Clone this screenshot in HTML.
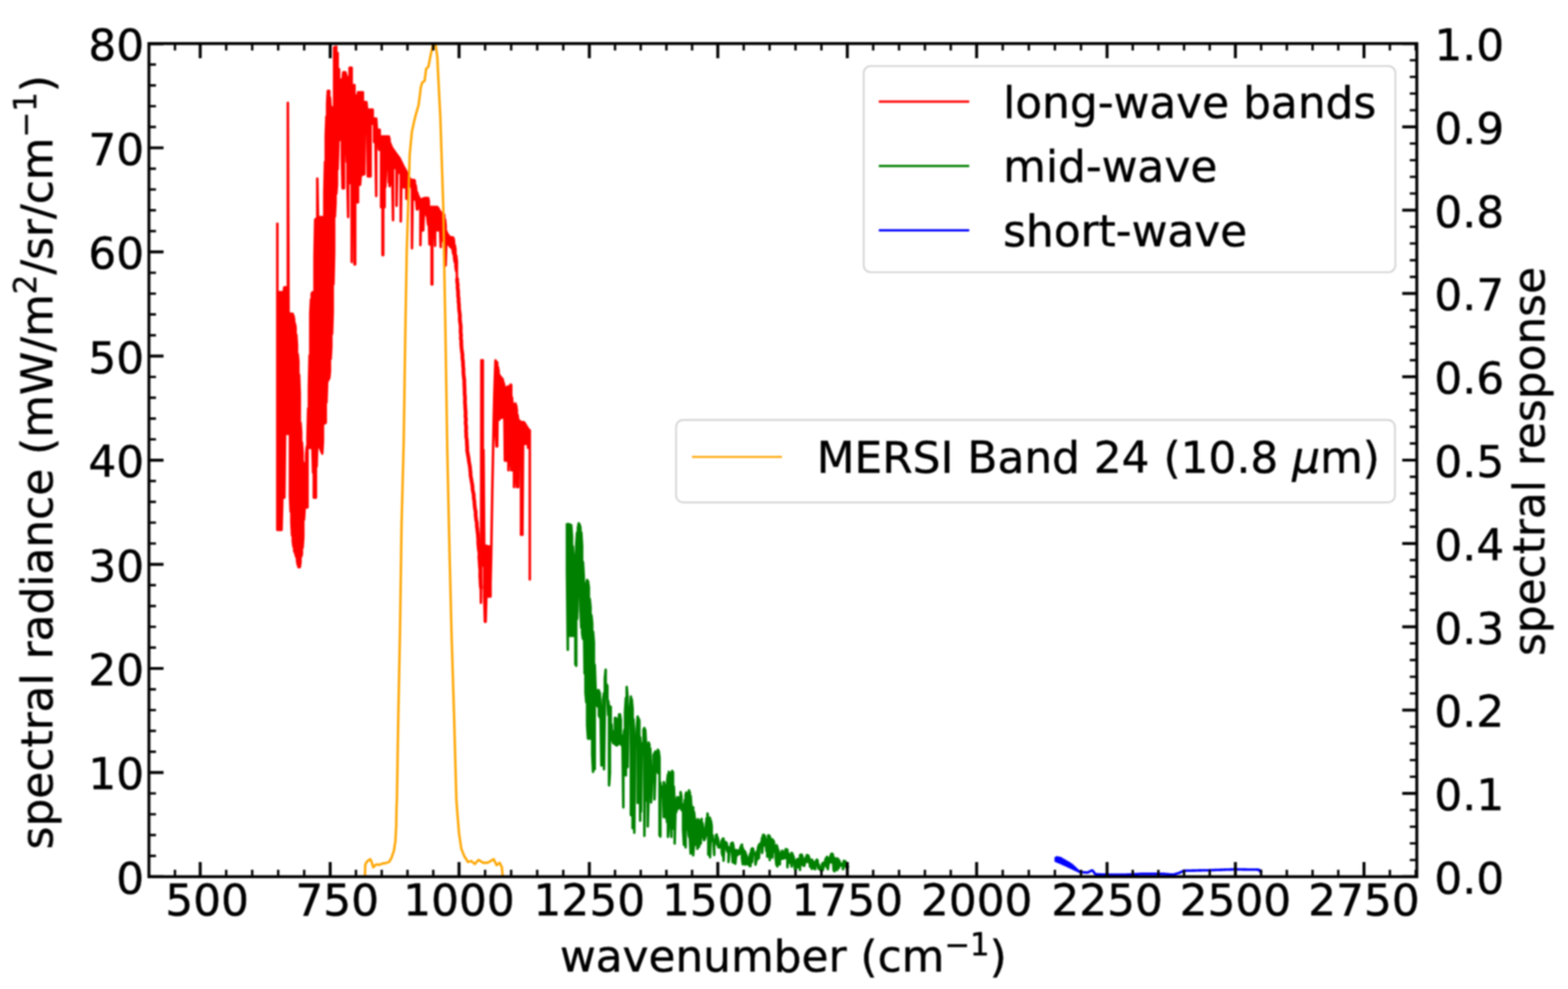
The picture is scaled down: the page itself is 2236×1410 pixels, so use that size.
<!DOCTYPE html>
<html><head><meta charset="utf-8"><title>spectral radiance</title>
<style>html,body{margin:0;padding:0;background:#fff;}body{width:2236px;height:1410px;overflow:hidden;}svg{display:block;}</style>
</head><body>
<svg width="2236" height="1410" viewBox="0 0 2236 1410">
<defs><filter id="soft" color-interpolation-filters="sRGB" filterUnits="userSpaceOnUse" x="0" y="0" width="2236" height="1410"><feGaussianBlur stdDeviation="0.8"/></filter></defs>
<rect width="2236" height="1410" fill="#fff"/>
<g filter="url(#soft)">
<g id="curves"><path d="M395.5 317.6L395.5 755.4L396.5 755.4L396.5 416.6L397.5 416.6L397.5 755.4L398.5 755.4L398.5 416.6L399.5 416.6L399.5 755.4L400.5 755.4L400.5 416.6L401.5 416.6L401.5 755.4L402.5 717.1L402.5 421.3L403.5 430.6L403.5 709.4L404.5 709.4L404.5 416.6L405.5 409.6L405.5 709.4L406.5 618.4L406.5 409.6L407.5 409.6L407.5 618.4L408.5 618.4L408.5 418.9L409.5 437.4L409.5 618.4L410.5 618.4L410.5 146.6L411.5 446.8L411.5 618.4L412.5 618.4L412.5 446.9L413.5 447L413.5 707.2L414.5 729.4L414.5 447.2L415.5 447.3L415.5 744.4L416.5 763.4L416.5 447.4L417.5 447.5L417.5 771.4L418.5 779.4L418.5 450.4L419.5 455.9L419.5 784.9L420.5 787.9L420.5 461.4L421.5 466.9L421.5 790.9L422.5 793.9L422.5 477.1L423.5 492.1L423.5 798.6L424.5 805.1L424.5 504.9L425.5 515.4L425.5 808.4L426.5 808.4L426.5 534.3L427.5 561.6L427.5 808.4L428.5 801.9L428.5 602.6L429.5 616.6L429.5 793.6L430.5 790.1L430.5 630.6L431.5 644.6L431.5 780.9L432.5 765.9L432.5 658.9L433.5 673.6L433.5 740.9L434.5 723.4L434.5 669.6L435.5 660.9L435.5 723.4L436.5 723.4L436.5 650L437.5 636.8L437.5 723.4L438.5 723.4L438.5 623.6L439.5 582.3L439.5 638.4L440.5 638.4L440.5 551.6L441.5 506.6L441.5 638.4L442.5 638.4L442.5 447.2L443.5 426.9L443.5 638.4L444.5 638.4L444.5 418.7L445.5 417L445.5 638.4L446.5 673.9L446.5 416.8L447.5 416.7L447.5 709.4L448.5 709.4L448.5 365.1L449.5 313.1L449.5 709.4L450.5 709.4L450.5 312.1L451.5 311.4L451.5 665.2L452.5 629.6L452.5 254.6L453.5 310.4L453.5 632.1L454.5 634.6L454.5 309.9L455.5 309.6L455.5 637.1L456.5 639.6L456.5 309.6L457.5 309.6L457.5 642L458.5 644.3L458.5 309.6L459.5 309.6L459.5 646.7L460.5 629.7L460.5 309.6L461.5 309.6L461.5 604.4L462.5 603.8L462.5 274.3L463.5 230.9L463.5 603.3L464.5 602.7L464.5 193.7L465.5 166L465.5 573.9L466.5 544.5L466.5 147.8L467.5 129.6L467.5 542.8L468.5 541L468.5 129.6L469.5 129.6L469.5 539.3L470.5 529.5L470.5 139L471.5 153.1L471.5 511.7L472.5 494L472.5 153.1L473.5 153.1L473.5 476.2L474.5 444.8L474.5 153.1L475.5 153.1L475.5 405.3L476.5 359.2L476.5 67.6L477.5 67.3L477.5 308.8L478.5 288.6L478.5 67L479.5 66.7L479.5 276.4L480.5 264.2L480.5 75.6L481.5 75.6L481.5 241.3L482.5 205.8L482.5 98.6L483.5 98.6L483.5 200.6L484.5 195.4L484.5 113.6L485.5 113.6L485.5 190.2L486.5 198.4L486.5 113.6L487.5 113.6L487.5 225.4L488.5 268.4L488.5 113.6L489.5 103.1L489.5 268.4L490.5 268.4L490.5 103.1L491.5 103.1L491.5 201.4L492.5 201.4L492.5 103.1L493.5 106.6L493.5 201.4L494.5 230.9L494.5 108.7L495.5 110.7L495.5 260.5L496.5 309.4L496.5 112.8L497.5 113L497.5 260.8L498.5 261L498.5 96.6L499.5 96.6L499.5 261.1L500.5 261.3L500.5 96.6L501.5 96.6L501.5 373.4L502.5 261.6L502.5 121.2L503.5 121.2L503.5 261.8L504.5 261.9L504.5 121.2L505.5 121.2L505.5 377L506.5 377L506.5 136.1L507.5 136.1L507.5 262.4L508.5 262.6L508.5 136.1L509.5 136.1L509.5 288.4L510.5 288.4L510.5 131.6L511.5 131.6L511.5 263.1L512.5 263.4L512.5 131.6L513.5 131.6L513.5 263.4L514.5 248.4L514.5 131.6L515.5 131.6L515.5 248.4L516.5 249.4L516.5 131.6L517.5 131.6L517.5 248.4L518.5 248.4L518.5 145.6L519.5 145.6L519.5 248.4L520.5 164.4L520.5 145.6L521.5 145.6L521.5 164.4L522.5 164.4L522.5 145.6L523.5 156.3L523.5 164.4L524.5 251.4L524.5 156.3L525.5 156.3L525.5 251.4L526.5 251.4L526.5 156.3L527.5 156.3L527.5 251.4L528.5 251.4L528.5 156.3L529.5 156.3L529.5 176.4L530.5 176.4L530.5 156.3L531.5 156.3L531.5 176.4L532.5 176.4L532.5 169L533.5 169L533.5 202.4L534.5 202.4L534.5 169L535.5 169L535.5 202.4L536.5 279.4L536.5 169L537.5 185L537.5 202.4L538.5 202.4L538.5 185L539.5 185L539.5 202.4L540.5 213.4L540.5 185L541.5 185L541.5 213.4L542.5 213.4L542.5 194.6L543.5 194.6L543.5 295.4L544.5 295.4L544.5 194.6L545.5 194.6L545.5 363.7L546.5 363.7L546.5 194.6L547.5 194.6L547.5 266.4L548.5 295.4L548.5 194.6L549.5 194.6L549.5 266.4L550.5 241.4L550.5 194.6L551.5 194.6L551.5 238.4L552.5 216.4L552.5 194.6L553.5 194.6L553.5 216.4L554.5 260.4L554.5 194.6L555.5 198.8L555.5 265.4L556.5 260.4L556.5 204.3L557.5 206.8L557.5 260.4L558.5 260.4L558.5 209.3L559.5 211.3L559.5 260.4L560.5 314L560.5 212.7L561.5 214.2L561.5 237.7L562.5 238.5L562.5 215.6L563.5 217L563.5 239.3L564.5 240.2L564.5 218.5L565.5 219.8L565.5 293.4L566.5 242L566.5 221.2L567.5 222.5L567.5 243.3L568.5 244.5L568.5 223.9L569.5 225.2L569.5 245.8L570.5 247.1L570.5 226.9L571.5 229L571.5 315.8L572.5 250L572.5 231L573.5 233.1L573.5 251.4L574.5 252.8L574.5 235.2L575.5 237.2L575.5 267.1L576.5 267.1L576.5 239L577.5 240.9L577.5 256.7L578.5 257.3L578.5 242.7L579.5 244.6L579.5 283.4L580.5 283.4L580.5 246.4L581.5 248.4L581.5 259L582.5 259.5L582.5 250.4L583.5 252.4L583.5 260.1L584.5 261.7L584.5 254.4L585.5 256.4L585.5 264.3L586.5 266.8L586.5 256.6L587.5 256.6L587.5 353.9L588.5 272L588.5 256.6L589.5 256.6L589.5 274.5L590.5 277.1L590.5 256.6L591.5 257.8L591.5 284.4L592.5 283.2L592.5 263.6L593.5 269.5L593.5 286.4L594.5 298.4L594.5 273.7L595.5 276.2L595.5 298.4L596.5 294.7L596.5 278.8L597.5 281.3L597.5 295.4L598.5 296.1L598.5 283.7L599.5 284.2L599.5 349.4L600.5 297.4L600.5 284.2L601.5 283.8L601.5 298.1L602.5 328.4L602.5 283.4L603.5 283.1L603.5 328.4L604.5 300.4L604.5 282.7L605.5 282.3L605.5 302.4L606.5 302L606.5 282.3L607.5 282.3L607.5 304.3L608.5 308.1L608.5 282.3L609.5 282.3L609.5 311.9L610.5 320.4L610.5 282.3L611.5 286.6L611.5 316.4L612.5 348.4L612.5 295.1L613.5 295.1L613.5 348.4L614.5 316.4L614.5 295.1L615.5 295.1L615.5 405.4L616.5 405.4L616.5 295.1L617.5 295.1L617.5 316.4L618.5 316.4L618.5 295.1L619.5 295.1L619.5 316.4L620.5 350.4L620.5 295.1L621.5 295.1L621.5 317.9L622.5 318.9L622.5 295.1L623.5 295.1L623.5 328.4L624.5 328.4L624.5 296L625.5 297.8L625.5 321.8L626.5 322.7L626.5 299.5L627.5 301.3L627.5 323.6L628.5 352.2L628.5 302.6L629.5 303.3L629.5 326.5L630.5 343.4L630.5 304L631.5 304.7L631.5 343.4L632.5 332.9L632.5 305.5L633.5 306.2L633.5 335.9L634.5 338.9L634.5 312.5L635.5 321.2L635.5 378.4L636.5 344.1L636.5 329.9L637.5 332.7L637.5 345.5L638.5 346.9L638.5 334.1L639.5 335.5L639.5 348.3L640.5 349.7L640.5 336.9L641.5 337.7L641.5 350.9L642.5 351.9L642.5 338L643.5 338.2L643.5 352.9L644.5 353.9L644.5 338.5L645.5 338.7L645.5 357.1L646.5 362.4L646.5 339L647.5 344L647.5 367.7L648.5 373.6L648.5 349.6L649.5 355.4L649.5 380.1L650.5 386.6L650.5 363.9L651.5 372.4L651.5 393.1L651.9 398L652 402L652.7 406L652.5 410L653.1 414L653.3 418L653.3 422L654 426L653.9 430L654.5 434L654.5 438L654.8 442L655.4 446L655.9 450L655.7 454L656 458L656.6 462L657 466L656.9 470L656.9 474L657.5 478L657.1 482L657.8 486L657.8 490L658 494L658.4 498L658.9 502L659.5 506L659.4 510L660 514L660.3 518L660.4 522L660.9 526L660.8 530L661.1 534L661.5 538L662.1 542L662.1 546L662.2 550L662.5 554L662.5 558L662.6 562L663.1 566L663.1 570L663 574L663.4 578L663.5 582L663.9 586L664 590L663.8 594L664.5 598L664 602L664.4 606L664.8 610L664.5 614L664.9 618L664.8 622L665.5 626L665.8 630L665.9 634L666.3 638L666.2 642L666.9 646L667.6 650L668.3 654L668.7 658L669.5 662L670.2 666L670.5 670L671 674L671 678L671.9 682L672.5 686L673.3 690L673.8 694L674 698L674.8 702L675.6 706L675.6 710L676.4 714L676.6 718L677 722L677.5 726L678.4 730L678.2 734L678.7 738L679.2 742L680 746L680 750L680.6 754L681 758L681.5 762L681.8 766L682.1 770L682 774L682.4 778L682.7 782L683.4 786L683.8 790L683.5 794L683.8 798L684.1 802L684.3 806L684.7 810L685 814L684.9 818L684.8 822L685.2 826L685.3 830L685.5 834L685.9 838L685.6 840L685.8 859.5L686 840L686.5 513.6L686.5 806.4L687.5 806.4L687.5 601.6L688.5 513.6L688.5 806.4L689.5 806.4L689.5 641.6L690.5 777.6L690.5 850.4L691.5 886.4L691.5 777.8L692.5 778L692.5 886.4L693.5 850.4L693.5 778.3L694.5 778.5L694.5 850.4L695.5 850.4L695.5 778.7L696.5 778.9L696.5 850.4L697.5 850.4L697.5 779.2L698.5 779.4L698.5 850.4L699.5 850.4L699.5 779.6L699.6 828L700.5 790L701 760L702 700L703 651L704 600L705 560L706 530L706.6 513.7L707 515.5L707 618.4L708 636.4L708 516.1L709 516.6L709 636.4L710 549L710 523L711 529.5L711 554.5L712 598.4L712 534.5L713 536L713 596.4L714 560.6L714 537.6L715 538.6L715 595.4L716 595.4L716 539.7L717 541L717 563.7L718 595.4L718 545.1L719 549.1L719 569.6L720 656.8L720 553.2L721 553.7L721 656.8L722 656.8L722 552.7L723 551.7L723 656.8L724 573.4L724 551L725 551L725 670.4L726 573.4L726 551L727 551L727 663.4L728 580.5L728 548.2L729 549L729 670.4L730 594.8L730 566.4L731 578L731 670.4L732 598.4L732 577.3L733 576.6L733 694.4L734 598.4L734 576L735 575.3L735 688.4L736 601L736 577.7L737 584.7L737 694.4L738 613.9L738 591.6L739 598.6L739 694.4L740 620.8L740 599.4L741 600.1L741 658.4L742 621.5L742 600.9L743 601.6L743 762.4L744 622.2L744 601.7L745 601.8L745 762.4L746 622.9L746 601.9L747 602L747 633L748 624.3L748 602.9L749 604.6L749 633L750 627.8L750 606.3L751 607.9L751 633L752 631.3L752 609.6L753 611.1L753 638.4L754 635.9L754 612.4L755 613.6L755 638.4L755.5 613.6L755.5 827.4" fill="none" stroke="#ff0000" stroke-width="3.6" stroke-linejoin="round"/>
<path d="M651.9 398L652 402L652.7 406L652.5 410L653.1 414L653.3 418L653.3 422L654 426L653.9 430L654.5 434L654.5 438L654.8 442L655.4 446L655.9 450L655.7 454L656 458L656.6 462L657 466L656.9 470L656.9 474L657.5 478L657.1 482L657.8 486L657.8 490L658 494L658.4 498L658.9 502L659.5 506L659.4 510L660 514L660.3 518L660.4 522L660.9 526L660.8 530L661.1 534L661.5 538L662.1 542L662.1 546L662.2 550L662.5 554L662.5 558L662.6 562L663.1 566L663.1 570L663 574L663.4 578L663.5 582L663.9 586L664 590L663.8 594L664.5 598L664 602L664.4 606L664.8 610L664.5 614L664.9 618L664.8 622L665.5 626L665.8 630L665.9 634L666.3 638L666.2 642L666.9 646L667.6 650L668.3 654L668.7 658L669.5 662L670.2 666L670.5 670L671 674L671 678L671.9 682L672.5 686L673.3 690L673.8 694L674 698L674.8 702L675.6 706L675.6 710L676.4 714L676.6 718L677 722L677.5 726L678.4 730L678.2 734L678.7 738L679.2 742L680 746L680 750L680.6 754L681 758L681.5 762L681.8 766L682.1 770L682 774L682.4 778L682.7 782L683.4 786L683.8 790L683.5 794L683.8 798L684.1 802L684.3 806L684.7 810L685 814L684.9 818L684.8 822L685.2 826L685.3 830L685.5 834L685.9 838" fill="none" stroke="#ff0000" stroke-width="5.4" stroke-linejoin="round" stroke-linecap="round"/>
<path d="M808.5 746.1L808.5 815.3L809.7 926.4L809.7 747.1L810.9 747.2L810.9 820.9L812.1 906.4L812.1 747.7L813.3 748.2L813.3 906.4L814.5 906.4L814.5 748.6L815.7 764.9L815.7 906.4L816.9 906.4L816.9 778.8L818.1 791.3L818.1 906.4L819.3 880.5L819.3 794.4L820.5 794.5L820.5 946.9L821.7 949.1L821.7 776.1L822.9 759.3L822.9 882.5L824.1 850.1L824.1 752.7L825.3 746.1L825.3 850.1L826.5 850.1L826.5 747.8L827.7 752.4L827.7 869.6L828.9 895L828.9 759L830.1 778.6L830.1 902.9L831.3 910.8L831.3 801L832.5 822.4L832.5 875.5L833.7 960.1L833.7 842.5L834.9 835.5L834.9 987.3L836.1 1001.1L836.1 831.6L837.3 826.9L837.3 1033.8L838.5 1052.9L838.5 828.6L839.7 837.6L839.7 1052.9L840.9 1052.9L840.9 853.7L842.1 865.5L842.1 1052.9L843.3 1008.3L843.3 877L844.5 888.8L844.5 1075.2L845.7 1100.4L845.7 900.6L846.9 915.6L846.9 1053.3L848.1 1096.6L848.1 947.8L849.3 981.2L849.3 983.1L850.5 994.8L850.5 994.1L851.7 995.9L851.7 1006.5L852.9 1007.6L852.9 983.8L854.1 984.3L854.1 1019.7L855.3 1022.6L855.3 987.6L856.5 1006.4L856.5 1023.4L857.7 1091.4L857.7 1023.2L858.9 1018.4L858.9 1061.9L860.1 1024.4L860.1 997.4L861.3 988.2L861.3 1096.7L862.5 1009.2L862.5 967.1L863.7 954.7L863.7 991.5L864.9 985L864.9 975.7L866.1 977.9L866.1 993.2L867.3 1019.3L867.3 999.3L868.5 1008L868.5 1119.8L869.7 1102.3L869.7 1007L870.9 1007.6L870.9 1045.1L872.1 1050.3L872.1 1032.7L873.3 1054.6L873.3 1055.8L874.5 1059.4L874.5 1058.3L875.7 1042.6L875.7 1060.3L876.9 1046.4L876.9 1023.5L878.1 1023.5L878.1 1062.1L879.3 1062.7L879.3 1025L880.5 1044.4L880.5 1062.3L881.7 1049.6L881.7 1034.3L882.9 1018.5L882.9 1060.2L884.1 1060L884.1 1018.2L885.3 1026.3L885.3 1061.2L886.5 1062.3L886.5 1048.6L887.7 1057.3L887.7 1063.4L888.9 1151.1L888.9 1054.1L890.1 1040.9L890.1 1057.7L891.3 1054.3L891.3 1015.2L892.5 995L892.5 1105.6L893.7 997L893.7 979.4L894.9 993.6L894.9 1093.8L896.1 1031L896.1 1013.1L897.3 1013.1L897.3 1031.1L898.5 1031.2L898.5 1008.4L899.7 993L899.7 1162.1L900.9 1045.4L900.9 996.9L902.1 1010.2L902.1 1180.8L903.3 1058.1L903.3 1025.3L904.5 1047.8L904.5 1187.3L905.7 1056.4L905.7 1051.6L906.9 1053.1L906.9 1061.5L908.1 1062.6L908.1 1039.4L909.3 1021.6L909.3 1144.7L910.5 1066L910.5 1024L911.7 1027.6L911.7 1043.6L912.9 1170.1L912.9 1051L914.1 1066.2L914.1 1157.3L915.3 1069.7L915.3 1068.2L916.5 1059.7L916.5 1068.6L917.7 1075.4L917.7 1040.2L918.9 1037.8L918.9 1191.7L920.1 1078.7L920.1 1040.6L921.3 1061.8L921.3 1081.8L922.5 1141.5L922.5 1083.8L923.7 1075.4L923.7 1178.3L924.9 1135.6L924.9 1058.5L926.1 1061.6L926.1 1086.5L927.3 1099L927.3 1067.4L928.5 1092.7L928.5 1144L929.7 1113.7L929.7 1113.7L930.9 1101L930.9 1109.2L932.1 1106L932.1 1076.4L933.3 1073.7L933.3 1139.6L934.5 1102.3L934.5 1071.3L935.7 1089.6L935.7 1093.2L936.9 1099.7L936.9 1086.5L938.1 1068.9L938.1 1101.1L939.3 1102.6L939.3 1070.6L940.5 1080.3L940.5 1190.5L941.7 1192.6L941.7 1115.7L942.9 1131.9L942.9 1131.9L944.1 1134.1L944.1 1134.1L945.3 1121L945.3 1133.5L946.5 1165L946.5 1115.1L947.7 1119.3L947.7 1140L948.9 1165.2L948.9 1122L950.1 1134.9L950.1 1161.2L951.3 1172L951.3 1115.2L952.5 1104.3L952.5 1193.1L953.7 1179.9L953.7 1100.4L954.9 1108.2L954.9 1171.2L956.1 1165.9L956.1 1119.5L957.3 1101.3L957.3 1193.1L958.5 1126.3L958.5 1099.1L959.7 1101.1L959.7 1181.1L960.9 1132.5L960.9 1121.4L962.1 1147.1L962.1 1202.6L963.3 1153.5L963.3 1147.3L964.5 1139.7L964.5 1157.6L965.7 1146.9L965.7 1136.5L966.9 1140.5L966.9 1153L968.1 1152.4L968.1 1152.4L969.3 1136.4L969.3 1144.9L970.5 1150.1L970.5 1129.2L971.7 1135.4L971.7 1154.8L972.9 1152.6L972.9 1146.5L974.1 1159.5L974.1 1183.1L975.3 1204.4L975.3 1156.7L976.5 1140.4L976.5 1182.1L977.7 1208.1L977.7 1132.7L978.9 1129.8L978.9 1151.1L980.1 1149.1L980.1 1137.5L981.3 1142.1L981.3 1182.3L982.5 1193L982.5 1126.9L983.7 1130.2L983.7 1194.2L984.9 1217L984.9 1134.9L986.1 1152.7L986.1 1159.6L987.3 1163.4L987.3 1153.7L988.5 1150.9L988.5 1219.5L989.7 1201.3L989.7 1157.6L990.9 1167.7L990.9 1204.6L992.1 1182.6L992.1 1182L993.3 1176.4L993.3 1182.4L994.5 1210.1L994.5 1168.5L995.7 1168.1L995.7 1203.6L996.9 1207.3L996.9 1170.1L998.1 1179.9L998.1 1197L999.3 1202.8L999.3 1174L1000.5 1167.5L1000.5 1186.3L1001.7 1190.2L1001.7 1173.2L1002.9 1181.5L1002.9 1194L1004.1 1197.9L1004.1 1194.1L1005.3 1193.1L1005.3 1195.9L1006.5 1191L1006.5 1178.4L1007.7 1166.5L1007.7 1175.5L1008.9 1181.6L1008.9 1159.7L1010.1 1167.4L1010.1 1218.4L1011.3 1183.9L1011.3 1176L1012.5 1166.1L1012.5 1222.2L1013.7 1188.5L1013.7 1169.7L1014.9 1177.5L1014.9 1193.8L1016.1 1198.7L1016.1 1191.1L1017.3 1197.6L1017.3 1198.9L1018.5 1218.9L1018.5 1197.8L1019.7 1197.7L1019.7 1199.1L1020.9 1199.8L1020.9 1190.7L1022.1 1189.8L1022.1 1202.6L1023.3 1205.3L1023.3 1193.9L1024.5 1199.6L1024.5 1207.9L1025.7 1208.2L1025.7 1205.5L1026.9 1207L1026.9 1207.9L1028.1 1207.6L1028.1 1204.4L1029.3 1198.2L1029.3 1215.5L1030.5 1220.1L1030.5 1196L1031.7 1195.5L1031.7 1227.1L1032.9 1206.5L1032.9 1199.5L1034.1 1203.4L1034.1 1206.4L1035.3 1209.1L1035.3 1200.8L1036.5 1202.7L1036.5 1211.8L1037.7 1214.6L1037.7 1206.6L1038.9 1209.5L1038.9 1228.9L1040.1 1214L1040.1 1213.1L1041.3 1208L1041.3 1213.3L1042.5 1212.6L1042.5 1202.9L1043.7 1201.6L1043.7 1211.9L1044.9 1229.3L1044.9 1201.6L1046.1 1207L1046.1 1219.8L1047.3 1230.4L1047.3 1212.6L1048.5 1211.8L1048.5 1231.4L1049.7 1220.4L1049.7 1213.4L1050.9 1212.1L1050.9 1219.6L1052.1 1216.1L1052.1 1212.9L1053.3 1216.4L1053.3 1218.1L1054.5 1217.2L1054.5 1214.7L1055.7 1208.5L1055.7 1216.3L1056.9 1215.4L1056.9 1205.5L1058.1 1204.1L1058.1 1224L1059.3 1232.3L1059.3 1209.2L1060.5 1215L1060.5 1230.6L1061.7 1225.9L1061.7 1213.2L1062.9 1215L1062.9 1232.7L1064.1 1223.9L1064.1 1218.2L1065.3 1223.4L1065.3 1226.1L1066.5 1232.3L1066.5 1224.7L1067.7 1223.1L1067.7 1223.3L1068.9 1234.5L1068.9 1221.6L1070.1 1216.5L1070.1 1235L1071.3 1219.3L1071.3 1211.6L1072.5 1209.6L1072.5 1229L1073.7 1217.1L1073.7 1209.7L1074.9 1214.9L1074.9 1217.5L1076.1 1217.4L1076.1 1217.1L1077.3 1217.2L1077.3 1232.8L1078.5 1227.6L1078.5 1216.8L1079.7 1213.4L1079.7 1225.6L1080.9 1214.9L1080.9 1208.8L1082.1 1205.1L1082.1 1223.7L1083.3 1208.7L1083.3 1203L1084.5 1203.6L1084.5 1205.5L1085.7 1202.4L1085.7 1201.6L1086.9 1194L1086.9 1216L1088.1 1198.5L1088.1 1190.2L1089.3 1190.4L1089.3 1205.5L1090.5 1199.8L1090.5 1191.7L1091.7 1197.3L1091.7 1198.7L1092.9 1213.1L1092.9 1200.2L1094.1 1196.5L1094.1 1221.3L1095.3 1221.1L1095.3 1191L1096.5 1191.1L1096.5 1202.6L1097.7 1226.1L1097.7 1192.4L1098.9 1200.1L1098.9 1205.1L1100.1 1210.5L1100.1 1200.1L1101.3 1196.5L1101.3 1222.8L1102.5 1210L1102.5 1198L1103.7 1200.6L1103.7 1214.2L1104.9 1211.7L1104.9 1207.8L1106.1 1206.7L1106.1 1223.3L1107.3 1233.2L1107.3 1205L1108.5 1207.6L1108.5 1235.3L1109.7 1229.8L1109.7 1211.4L1110.9 1218.2L1110.9 1223.7L1112.1 1232.3L1112.1 1220.9L1113.3 1216.3L1113.3 1224.7L1114.5 1224.5L1114.5 1213.7L1115.7 1213L1115.7 1224.2L1116.9 1223.9L1116.9 1214.8L1118.1 1219L1118.1 1223.6L1119.3 1223.3L1119.3 1215.6L1120.5 1210.7L1120.5 1223.3L1121.7 1223.4L1121.7 1210.8L1122.9 1211.3L1122.9 1236.4L1124.1 1221.4L1124.1 1216.5L1125.3 1219.7L1125.3 1224L1126.5 1230.1L1126.5 1219.9L1127.7 1218.1L1127.7 1224.3L1128.9 1235.3L1128.9 1215.7L1130.1 1217.4L1130.1 1222L1131.3 1229.5L1131.3 1220.4L1132.5 1225.6L1132.5 1231.2L1133.7 1239.2L1133.7 1230.6L1134.9 1229.4L1134.9 1239.2L1136.1 1229L1136.1 1226.4L1137.3 1224.6L1137.3 1236.5L1138.5 1231.1L1138.5 1224.8L1139.7 1224.9L1139.7 1230L1140.9 1240.2L1140.9 1219.5L1142.1 1218.5L1142.1 1228.5L1143.3 1222.2L1143.3 1218.5L1144.5 1222.3L1144.5 1233.4L1145.7 1226.3L1145.7 1225.1L1146.9 1225.2L1146.9 1234.6L1148.1 1228.4L1148.1 1225.2L1149.3 1222.1L1149.3 1228.6L1150.5 1228.7L1150.5 1219.1L1151.7 1219.2L1151.7 1224.1L1152.9 1229L1152.9 1220L1154.1 1224.1L1154.1 1226.5L1155.3 1235.7L1155.3 1226.1L1156.5 1226L1156.5 1230.7L1157.7 1238.7L1157.7 1225.5L1158.9 1228.1L1158.9 1234.2L1160.1 1234.9L1160.1 1229.1L1161.3 1230.8L1161.3 1238.5L1162.5 1239.1L1162.5 1231L1163.7 1227.1L1163.7 1232.2L1164.9 1233.3L1164.9 1225.5L1166.1 1227.3L1166.1 1234.3L1167.3 1238.5L1167.3 1232.3L1168.5 1237.7L1168.5 1237.7L1169.7 1240.3L1169.7 1240.3L1170.9 1235.9L1170.9 1238.3L1172.1 1237.3L1172.1 1232.2L1173.3 1230.5L1173.3 1240.7L1174.5 1235.3L1174.5 1229.8L1175.7 1230.8L1175.7 1234.3L1176.9 1233.4L1176.9 1226.1L1178.1 1223.4L1178.1 1232.4L1179.3 1236.4L1179.3 1221.6L1180.5 1223.2L1180.5 1239.3L1181.7 1230.3L1181.7 1226.7L1182.9 1226.2L1182.9 1229.9L1184.1 1229.5L1184.1 1221.3L1185.3 1217.7L1185.3 1229.2L1186.5 1228.8L1186.5 1217.1L1187.7 1218.1L1187.7 1224.1L1188.9 1241L1188.9 1222.5L1190.1 1223.5L1190.1 1242.3L1191.3 1228.9L1191.3 1225L1192.5 1225.9L1192.5 1235.8L1193.7 1240.4L1193.7 1223.9L1194.9 1224.4L1194.9 1232.8L1196.1 1237.6L1196.1 1226.4L1197.3 1228.1L1197.3 1234L1198.5 1234.1L1198.5 1231.3L1199.7 1231.9L1199.7 1232.9L1200.9 1234.4L1200.9 1232.1L1202.1 1230.1L1202.1 1239.3L1203.3 1233L1203.3 1227.4L1204.5 1227.5L1204.5 1234.7L1205.7 1235L1205.7 1228.3L1206.9 1232.1L1206.9 1235.5L1208.1 1239.9L1208.1 1234.9L1209.3 1235.8L1209.3 1236.8" fill="none" stroke="#008000" stroke-width="3.6" stroke-linejoin="round"/>
<path d="M1505.5 1222.1L1505.5 1227.4L1506.7 1227.9L1506.7 1222.3L1507.9 1222.6L1507.9 1228.4L1509.1 1228.9L1509.1 1222.8L1510.3 1223.1L1510.3 1229.4L1511.5 1229.9L1511.5 1223.3L1512.7 1223.6L1512.7 1230.4L1513.9 1230.9L1513.9 1224.3L1515.1 1225L1515.1 1231.5L1516.3 1232L1516.3 1225.7L1517.5 1226.4L1517.5 1232.6L1518.7 1233.1L1518.7 1227.1L1519.9 1227.8L1519.9 1233.7L1521.1 1234.2L1521.1 1228.5L1522.3 1229.2L1522.3 1234.8L1523.5 1235.3L1523.5 1229.9L1524.7 1230.6L1524.7 1235.9L1525.9 1236.4L1525.9 1231.4L1527.1 1232.1L1527.1 1237L1528.3 1237.5L1528.3 1232.9L1529.5 1234L1529.5 1238.1L1530.7 1238.7L1530.7 1235.1L1531.9 1236.2L1531.9 1239.3L1533.1 1239.9L1533.1 1237.3L1534.3 1238.4L1534.3 1240.4L1535.5 1241L1535.5 1239.5L1536.7 1240.6L1536.7 1241.6L1537.9 1242.2L1537.9 1241.7L1539.1 1242.8L1539.1 1242.8L1540.3 1243.2L1540.3 1243.2L1541.5 1243.3L1541.5 1243.3L1542.7 1243.4L1542.7 1243.4L1543.9 1243.5L1543.9 1243.5L1545.1 1243.6L1545.1 1243.6L1546.3 1243.7L1546.3 1243.7L1547.5 1243.8L1547.5 1243.8L1548.7 1243.9L1548.7 1243.9L1549.9 1244L1549.9 1244L1551.1 1243.9L1551.1 1243.9L1552.3 1243.3L1552.3 1243.3L1553.5 1242.7L1553.5 1242.7L1554.7 1242.1L1554.7 1242.1L1555.9 1241.5L1555.9 1241.5L1557.1 1240.9L1557.1 1240.9L1558.3 1241.4L1558.3 1241.4L1559.5 1243L1559.5 1243L1560.7 1244.6L1560.7 1244.6L1561.9 1246.3L1561.9 1246.3L1563.1 1246.4L1563.1 1246.4L1564.3 1246.5L1564.3 1246.5L1565.5 1246.5L1565.5 1246.5L1566.7 1246.6L1566.7 1246.6L1567.9 1246.6L1567.9 1246.6L1569.1 1246.7L1569.1 1246.7L1570.3 1246.7L1570.3 1246.7L1571.5 1246.8L1571.5 1246.8L1572.7 1246.8L1572.7 1246.8L1573.9 1246.9L1573.9 1246.9L1575.1 1246.9L1575.1 1246.9L1576.3 1247L1576.3 1247L1577.5 1247L1577.5 1247L1578.7 1247L1578.7 1247L1579.9 1247.1L1579.9 1247.1L1581.1 1247.1L1581.1 1247.1L1582.3 1247.1L1582.3 1247.1L1583.5 1247.1L1583.5 1247.1L1584.7 1247.1L1584.7 1247.1L1585.9 1247.1L1585.9 1247.1L1587.1 1247.1L1587.1 1247.1L1588.3 1247.1L1588.3 1247.1L1589.5 1247.1L1589.5 1247.1L1590.7 1247.1L1590.7 1247.1L1591.9 1247.1L1591.9 1247.1L1593.1 1247.1L1593.1 1247.1L1594.3 1247.1L1594.3 1247.1L1595.5 1247.1L1595.5 1247.1L1596.7 1247.1L1596.7 1247.1L1597.9 1247.1L1597.9 1247.1L1599.1 1247.1L1599.1 1247.1L1600.3 1247.1L1600.3 1247.1L1601.5 1247.1L1601.5 1247.1L1602.7 1247.1L1602.7 1247.1L1603.9 1247.1L1603.9 1247.1L1605.1 1247L1605.1 1247L1606.3 1247L1606.3 1247L1607.5 1246.9L1607.5 1246.9L1608.7 1246.9L1608.7 1246.9L1609.9 1246.8L1609.9 1246.8L1611.1 1246.7L1611.1 1246.7L1612.3 1246.7L1612.3 1246.7L1613.5 1246.6L1613.5 1246.6L1614.7 1246.5L1614.7 1246.5L1615.9 1246.5L1615.9 1246.5L1617.1 1246.4L1617.1 1246.4L1618.3 1246.4L1618.3 1246.4L1619.5 1246.3L1619.5 1246.3L1620.7 1246.2L1620.7 1246.2L1621.9 1246.2L1621.9 1246.2L1623.1 1246.1L1623.1 1246.1L1624.3 1246L1624.3 1246L1625.5 1246L1625.5 1246L1626.7 1245.9L1626.7 1245.9L1627.9 1245.9L1627.9 1245.9L1629.1 1245.9L1629.1 1245.9L1630.3 1245.9L1630.3 1245.9L1631.5 1245.9L1631.5 1245.9L1632.7 1245.9L1632.7 1245.9L1633.9 1245.9L1633.9 1245.9L1635.1 1245.9L1635.1 1245.9L1636.3 1245.9L1636.3 1245.9L1637.5 1245.9L1637.5 1245.9L1638.7 1245.9L1638.7 1245.9L1639.9 1245.9L1639.9 1245.9L1641.1 1245.9L1641.1 1245.9L1642.3 1245.9L1642.3 1245.9L1643.5 1245.9L1643.5 1245.9L1644.7 1245.9L1644.7 1245.9L1645.9 1245.9L1645.9 1245.9L1647.1 1245.9L1647.1 1245.9L1648.3 1245.9L1648.3 1245.9L1649.5 1245.9L1649.5 1245.9L1650.7 1245.9L1650.7 1245.9L1651.9 1245.9L1651.9 1245.9L1653.1 1245.9L1653.1 1245.9L1654.3 1245.9L1654.3 1245.9L1655.5 1245.9L1655.5 1245.9L1656.7 1245.9L1656.7 1245.9L1657.9 1245.9L1657.9 1245.9L1659.1 1245.9L1659.1 1245.9L1660.3 1245.9L1660.3 1245.9L1661.5 1246L1661.5 1246L1662.7 1246.2L1662.7 1246.2L1663.9 1246.3L1663.9 1246.3L1665.1 1246.4L1665.1 1246.4L1666.3 1246.5L1666.3 1246.5L1667.5 1246.6L1667.5 1246.6L1668.7 1246.7L1668.7 1246.7L1669.9 1246.8L1669.9 1246.8L1671.1 1246.9L1671.1 1246.9L1672.3 1247.1L1672.3 1247.1L1673.5 1246.9L1673.5 1246.9L1674.7 1246.5L1674.7 1246.5L1675.9 1246.2L1675.9 1246.2L1677.1 1245.8L1677.1 1245.8L1678.3 1245.5L1678.3 1245.5L1679.5 1245.1L1679.5 1245.1L1680.7 1244.8L1680.7 1244.8L1681.9 1244.4L1681.9 1244.4L1683.1 1243.8L1683.1 1243.8L1684.3 1243.2L1684.3 1243.2L1685.5 1242.6L1685.5 1242.6L1686.7 1242L1686.7 1242L1687.9 1241.4L1687.9 1241.4L1689.1 1241.4L1689.1 1241.4L1690.3 1241.4L1690.3 1241.4L1691.5 1241.3L1691.5 1241.3L1692.7 1241.3L1692.7 1241.3L1693.9 1241.3L1693.9 1241.3L1695.1 1241.3L1695.1 1241.3L1696.3 1241.2L1696.3 1241.2L1697.5 1241.2L1697.5 1241.2L1698.7 1241.2L1698.7 1241.2L1699.9 1241.1L1699.9 1241.1L1701.1 1241.1L1701.1 1241.1L1702.3 1241.1L1702.3 1241.1L1703.5 1241.1L1703.5 1241.1L1704.7 1241L1704.7 1241L1705.9 1241L1705.9 1241L1707.1 1241L1707.1 1241L1708.3 1241L1708.3 1241L1709.5 1240.9L1709.5 1240.9L1710.7 1240.9L1710.7 1240.9L1711.9 1240.9L1711.9 1240.9L1713.1 1240.9L1713.1 1240.9L1714.3 1240.8L1714.3 1240.8L1715.5 1240.8L1715.5 1240.8L1716.7 1240.8L1716.7 1240.8L1717.9 1240.8L1717.9 1240.8L1719.1 1240.7L1719.1 1240.7L1720.3 1240.7L1720.3 1240.7L1721.5 1240.7L1721.5 1240.7L1722.7 1240.7L1722.7 1240.7L1723.9 1240.6L1723.9 1240.6L1725.1 1240.6L1725.1 1240.6L1726.3 1240.6L1726.3 1240.6L1727.5 1240.5L1727.5 1240.5L1728.7 1240.5L1728.7 1240.5L1729.9 1240.5L1729.9 1240.5L1731.1 1240.4L1731.1 1240.4L1732.3 1240.4L1732.3 1240.4L1733.5 1240.3L1733.5 1240.3L1734.7 1240.3L1734.7 1240.3L1735.9 1240.3L1735.9 1240.3L1737.1 1240.2L1737.1 1240.2L1738.3 1240.2L1738.3 1240.2L1739.5 1240.1L1739.5 1240.1L1740.7 1240.1L1740.7 1240.1L1741.9 1240.1L1741.9 1240.1L1743.1 1240L1743.1 1240L1744.3 1240L1744.3 1240L1745.5 1239.9L1745.5 1239.9L1746.7 1239.9L1746.7 1239.9L1747.9 1239.8L1747.9 1239.8L1749.1 1239.8L1749.1 1239.8L1750.3 1239.8L1750.3 1239.8L1751.5 1239.7L1751.5 1239.7L1752.7 1239.7L1752.7 1239.7L1753.9 1239.6L1753.9 1239.6L1755.1 1239.6L1755.1 1239.6L1756.3 1239.6L1756.3 1239.6L1757.5 1239.5L1757.5 1239.5L1758.7 1239.5L1758.7 1239.5L1759.9 1239.4L1759.9 1239.4L1761.1 1239.4L1761.1 1239.4L1762.3 1239.4L1762.3 1239.4L1763.5 1239.4L1763.5 1239.4L1764.7 1239.5L1764.7 1239.5L1765.9 1239.5L1765.9 1239.5L1767.1 1239.5L1767.1 1239.5L1768.3 1239.5L1768.3 1239.5L1769.5 1239.5L1769.5 1239.5L1770.7 1239.5L1770.7 1239.5L1771.9 1239.6L1771.9 1239.6L1773.1 1239.6L1773.1 1239.6L1774.3 1239.6L1774.3 1239.6L1775.5 1239.6L1775.5 1239.6L1776.7 1239.6L1776.7 1239.6L1777.9 1239.7L1777.9 1239.7L1779.1 1239.7L1779.1 1239.7L1780.3 1239.7L1780.3 1239.7L1781.5 1239.7L1781.5 1239.7L1782.7 1239.7L1782.7 1239.7L1783.9 1239.7L1783.9 1239.7L1785.1 1239.8L1785.1 1239.8L1786.3 1239.8L1786.3 1239.8L1787.5 1239.8L1787.5 1239.8L1788.7 1239.8L1788.7 1239.8L1789.9 1239.8L1789.9 1239.8L1791.1 1239.8L1791.1 1239.8L1792.3 1239.9L1792.3 1239.9L1793.5 1239.9L1793.5 1239.9L1794.7 1240L1794.7 1240L1795.9 1240.5L1795.9 1240.9L1797.1 1242.7L1797.1 1241L1798.3 1241.5L1798.3 1244.6" fill="none" stroke="#0000ff" stroke-width="3.6" stroke-linejoin="round"/>
<path d="M520.4 1249L520.9 1232.3L523.6 1228L527.9 1224.8L530 1229L532.2 1236.6L535 1233.5L537.6 1232.3L541 1233L545 1231.2L550 1230.5L554.7 1229L558 1223.7L561.7 1213L563.9 1199L565 1177.6L565.5 1150.7L566 1140L568 1020L570.4 900L572.6 749L575.7 630L577.9 479L580 360L582 294L584.3 219.6L587.4 187.7L590.6 172.8L592.8 164L597 149.4L600.2 123.8L602.3 117.4L605.5 115.3L607.7 98.3L610.9 95.1L614 79.1L617.2 64.3L619.4 63.2L621.5 65.3L623.6 81.3L625.7 123.8L627.9 166.4L630 230L632.1 294L633.2 360L635.3 479L637.8 640L640.6 769L643.8 900L647.5 1020L650.8 1140L652.4 1161.5L654.6 1188.3L657.8 1209.8L662 1220.5L667.4 1229L672 1227.5L677 1231.8L682.5 1225.9L688.9 1230L695.3 1230L699 1228L703.9 1224.8L708.2 1233.4L712.5 1230L715.7 1236.6L716.8 1249" fill="none" stroke="#ffa500" stroke-width="3.4" stroke-linejoin="round"/></g>
<g fill="none" stroke="#000" stroke-linecap="butt">
<path d="M249.5 1249.9V1239.9M249.5 62.1V72.1M322.57 1249.9V1239.9M322.57 62.1V72.1M359.64 1249.9V1239.9M359.64 62.1V72.1M396.71 1249.9V1239.9M396.71 62.1V72.1M433.78 1249.9V1239.9M433.78 62.1V72.1M507.6 1249.9V1239.9M507.6 62.1V72.1M544.35 1249.9V1239.9M544.35 62.1V72.1M581.1 1249.9V1239.9M581.1 62.1V72.1M617.85 1249.9V1239.9M617.85 62.1V72.1M691.76 1249.9V1239.9M691.76 62.1V72.1M728.92 1249.9V1239.9M728.92 62.1V72.1M766.08 1249.9V1239.9M766.08 62.1V72.1M803.24 1249.9V1239.9M803.24 62.1V72.1M877.04 1249.9V1239.9M877.04 62.1V72.1M913.68 1249.9V1239.9M913.68 62.1V72.1M950.32 1249.9V1239.9M950.32 62.1V72.1M986.96 1249.9V1239.9M986.96 62.1V72.1M1060.54 1249.9V1239.9M1060.54 62.1V72.1M1097.48 1249.9V1239.9M1097.48 62.1V72.1M1134.42 1249.9V1239.9M1134.42 62.1V72.1M1171.36 1249.9V1239.9M1171.36 62.1V72.1M1245.18 1249.9V1239.9M1245.18 62.1V72.1M1282.06 1249.9V1239.9M1282.06 62.1V72.1M1318.94 1249.9V1239.9M1318.94 62.1V72.1M1355.82 1249.9V1239.9M1355.82 62.1V72.1M1429.9 1249.9V1239.9M1429.9 62.1V72.1M1467.1 1249.9V1239.9M1467.1 62.1V72.1M1504.3 1249.9V1239.9M1504.3 62.1V72.1M1541.5 1249.9V1239.9M1541.5 62.1V72.1M1615.3 1249.9V1239.9M1615.3 62.1V72.1M1651.9 1249.9V1239.9M1651.9 62.1V72.1M1688.5 1249.9V1239.9M1688.5 62.1V72.1M1725.1 1249.9V1239.9M1725.1 62.1V72.1M1798.38 1249.9V1239.9M1798.38 62.1V72.1M1835.06 1249.9V1239.9M1835.06 62.1V72.1M1871.74 1249.9V1239.9M1871.74 62.1V72.1M1908.42 1249.9V1239.9M1908.42 62.1V72.1M1982 1249.9V1239.9M1982 62.1V72.1M2018.9 1249.9V1239.9M2018.9 62.1V72.1M212.4 1220.21H222.4M212.4 1190.52H222.4M212.4 1160.83H222.4M212.4 1131.14H222.4M212.4 1071.76H222.4M212.4 1042.07H222.4M212.4 1012.38H222.4M212.4 982.69H222.4M212.4 923.31H222.4M212.4 893.62H222.4M212.4 863.93H222.4M212.4 834.24H222.4M212.4 774.86H222.4M212.4 745.17H222.4M212.4 715.48H222.4M212.4 685.79H222.4M212.4 626.41H222.4M212.4 596.72H222.4M212.4 567.03H222.4M212.4 537.34H222.4M212.4 477.96H222.4M212.4 448.27H222.4M212.4 418.58H222.4M212.4 388.89H222.4M212.4 329.51H222.4M212.4 299.82H222.4M212.4 270.13H222.4M212.4 240.44H222.4M212.4 181.06H222.4M212.4 151.37H222.4M212.4 121.68H222.4M212.4 91.99H222.4M2020.4 1226.14H2010.4M2020.4 1202.39H2010.4M2020.4 1178.63H2010.4M2020.4 1154.88H2010.4M2020.4 1107.36H2010.4M2020.4 1083.61H2010.4M2020.4 1059.85H2010.4M2020.4 1036.1H2010.4M2020.4 988.58H2010.4M2020.4 964.83H2010.4M2020.4 941.07H2010.4M2020.4 917.32H2010.4M2020.4 869.8H2010.4M2020.4 846.05H2010.4M2020.4 822.29H2010.4M2020.4 798.54H2010.4M2020.4 751.02H2010.4M2020.4 727.27H2010.4M2020.4 703.51H2010.4M2020.4 679.76H2010.4M2020.4 632.24H2010.4M2020.4 608.49H2010.4M2020.4 584.73H2010.4M2020.4 560.98H2010.4M2020.4 513.46H2010.4M2020.4 489.71H2010.4M2020.4 465.95H2010.4M2020.4 442.2H2010.4M2020.4 394.68H2010.4M2020.4 370.93H2010.4M2020.4 347.17H2010.4M2020.4 323.42H2010.4M2020.4 275.9H2010.4M2020.4 252.15H2010.4M2020.4 228.39H2010.4M2020.4 204.64H2010.4M2020.4 157.12H2010.4M2020.4 133.37H2010.4M2020.4 109.61H2010.4M2020.4 85.86H2010.4" stroke-width="3.4"/>
<path d="M285.5 1249.9V1229.1M285.5 62.1V82.9M470.85 1249.9V1229.1M470.85 62.1V82.9M654.6 1249.9V1229.1M654.6 62.1V82.9M840.4 1249.9V1229.1M840.4 62.1V82.9M1023.6 1249.9V1229.1M1023.6 62.1V82.9M1208.3 1249.9V1229.1M1208.3 62.1V82.9M1392.7 1249.9V1229.1M1392.7 62.1V82.9M1578.7 1249.9V1229.1M1578.7 62.1V82.9M1761.7 1249.9V1229.1M1761.7 62.1V82.9M1945.1 1249.9V1229.1M1945.1 62.1V82.9M212.4 1249.9H233.2M212.4 1101.45H233.2M212.4 953H233.2M212.4 804.55H233.2M212.4 656.1H233.2M212.4 507.65H233.2M212.4 359.2H233.2M212.4 210.75H233.2M212.4 62.3H233.2M2020.4 1249.9H1999.6M2020.4 1131.12H1999.6M2020.4 1012.34H1999.6M2020.4 893.56H1999.6M2020.4 774.78H1999.6M2020.4 656H1999.6M2020.4 537.22H1999.6M2020.4 418.44H1999.6M2020.4 299.66H1999.6M2020.4 180.88H1999.6M2020.4 62.1H1999.6" stroke-width="4.2"/>
<rect x="212.4" y="62.1" width="1808" height="1187.8" stroke-width="4.2" stroke-linejoin="miter"/>
</g>
<g font-family="'DejaVu Sans', 'Liberation Sans', sans-serif" font-size="62.5" fill="#000" stroke="#000" stroke-width="0.6">
<rect x="1231.6" y="94.1" width="758.3" height="294" rx="10" ry="10" fill="#fff" stroke="#d2d2d2" stroke-width="2.4"/>
<path d="M1254.8 144.9H1380.5" stroke="#ff0000" stroke-width="3.3" stroke-linecap="square" fill="none"/>
<text x="1430.5" y="167.7">long-wave bands</text>
<path d="M1254.8 236.65H1380.5" stroke="#008000" stroke-width="3.3" stroke-linecap="square" fill="none"/>
<text x="1430.5" y="259.45">mid-wave</text>
<path d="M1254.8 328.4H1380.5" stroke="#0000ff" stroke-width="3.3" stroke-linecap="square" fill="none"/>
<text x="1430.5" y="351.2">short-wave</text>
<rect x="964.1" y="598.8" width="1025.1" height="117.4" rx="10" ry="10" fill="#fff" stroke="#d2d2d2" stroke-width="2.4"/>
<path d="M988.2 651.4H1113.7" stroke="#ffa500" stroke-width="2.8" stroke-linecap="square" fill="none"/>
<text x="1164.7" y="674.2">MERSI Band 24 (10.8 <tspan font-style="italic">μ</tspan>m)</text>
<text x="295.44" y="1305.3" text-anchor="middle">500</text>
<text x="480.79" y="1305.3" text-anchor="middle">750</text>
<text x="654.6" y="1305.3" text-anchor="middle">1000</text>
<text x="840.4" y="1305.3" text-anchor="middle">1250</text>
<text x="1023.6" y="1305.3" text-anchor="middle">1500</text>
<text x="1208.3" y="1305.3" text-anchor="middle">1750</text>
<text x="1392.7" y="1305.3" text-anchor="middle">2000</text>
<text x="1578.7" y="1305.3" text-anchor="middle">2250</text>
<text x="1761.7" y="1305.3" text-anchor="middle">2500</text>
<text x="1945.1" y="1305.3" text-anchor="middle">2750</text>
<text x="205.6" y="1273.9" text-anchor="end">0</text>
<text x="205.6" y="1125.45" text-anchor="end">10</text>
<text x="205.6" y="977" text-anchor="end">20</text>
<text x="205.6" y="828.55" text-anchor="end">30</text>
<text x="205.6" y="680.1" text-anchor="end">40</text>
<text x="205.6" y="531.65" text-anchor="end">50</text>
<text x="205.6" y="383.2" text-anchor="end">60</text>
<text x="205.6" y="234.75" text-anchor="end">70</text>
<text x="205.6" y="86.3" text-anchor="end">80</text>
<text x="2045.5" y="1273.9">0.0</text>
<text x="2045.5" y="1155.12">0.1</text>
<text x="2045.5" y="1036.34">0.2</text>
<text x="2045.5" y="917.56">0.3</text>
<text x="2045.5" y="798.78">0.4</text>
<text x="2045.5" y="680">0.5</text>
<text x="2045.5" y="561.22">0.6</text>
<text x="2045.5" y="442.44">0.7</text>
<text x="2045.5" y="323.66">0.8</text>
<text x="2045.5" y="204.88">0.9</text>
<text x="2045.5" y="86.1">1.0</text>
<text x="1117" y="1384.5" text-anchor="middle">wavenumber (cm<tspan dy="-22.8" font-size="43.75">−1</tspan><tspan dy="22.8">)</tspan></text>
<text transform="translate(74.6 659) rotate(-90)" text-anchor="middle">spectral radiance (mW/m<tspan dy="-22.8" font-size="43.75">2</tspan><tspan dy="22.8">/sr/cm</tspan><tspan dy="-22.8" font-size="43.75">−1</tspan><tspan dy="22.8">)</tspan></text>
<text transform="translate(2202.3 658) rotate(-90)" text-anchor="middle">spectral response</text>
</g>
</g>
</svg>
</body></html>
